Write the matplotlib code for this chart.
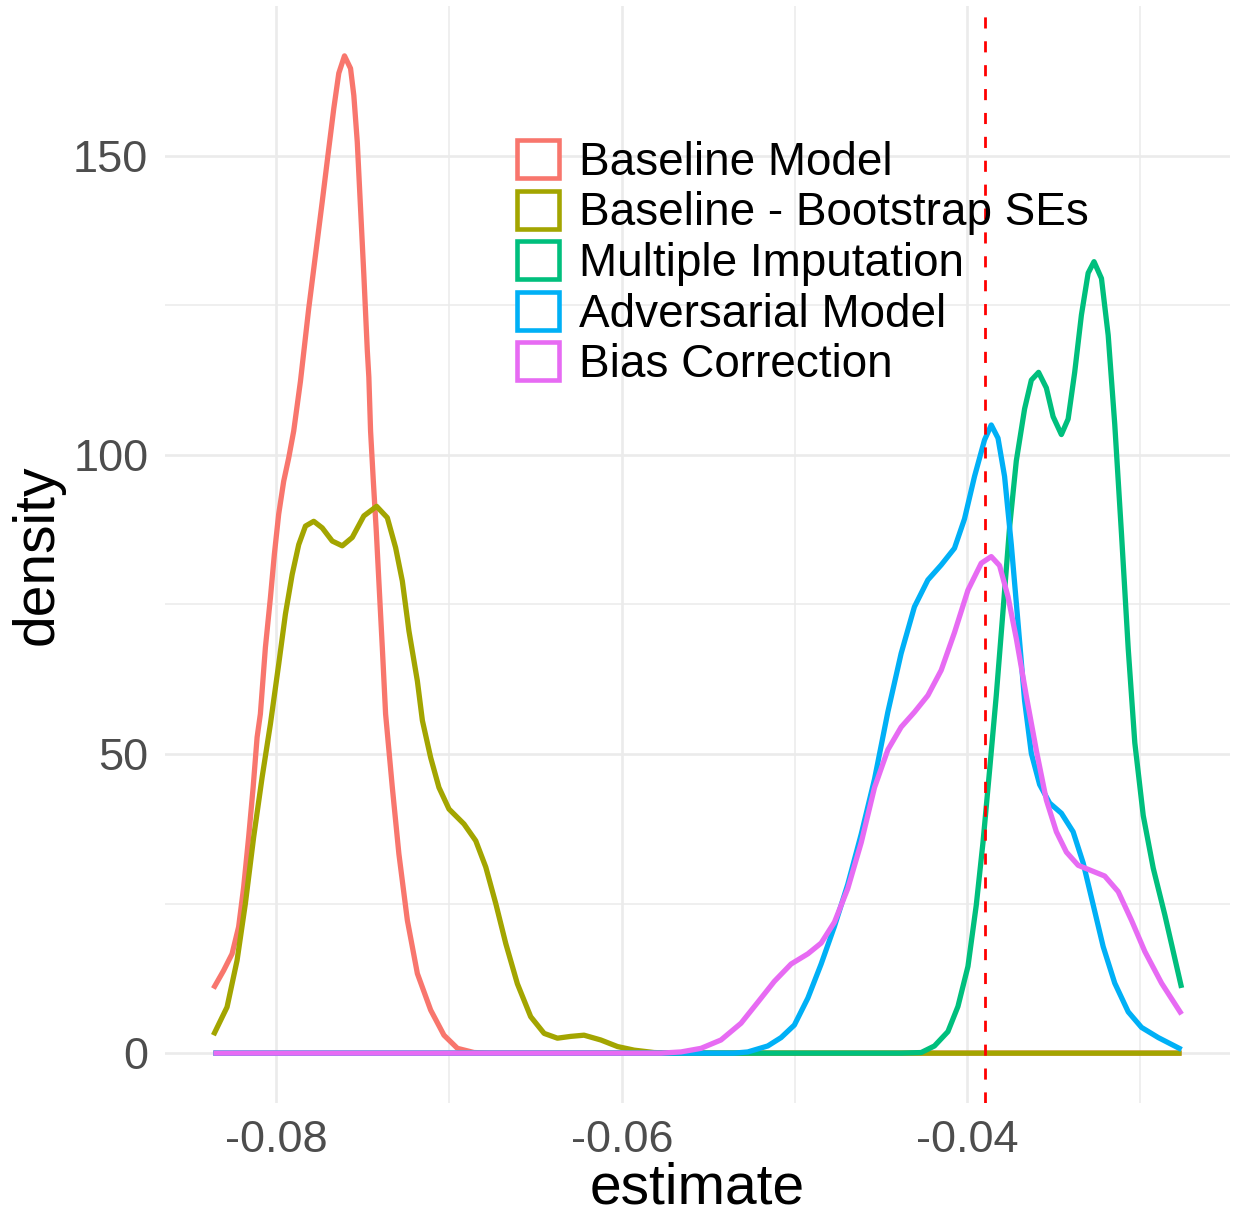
import matplotlib
matplotlib.use("Agg")
import matplotlib.pyplot as plt
from matplotlib.patches import Patch

# density curves (estimate, density)
labels = ["Baseline Model", "Baseline - Bootstrap SEs", "Multiple Imputation",
          "Adversarial Model", "Bias Correction"]
colors = ["#F8766D", "#A3A500", "#00BF7D", "#00B0F6", "#E76BF3"]

base_x = [-0.08365, -0.08306, -0.08257, -0.08219, -0.08190, -0.08161, -0.08135, -0.08112,
          -0.08093, -0.08064, -0.08035, -0.08012, -0.07987, -0.07958, -0.07929, -0.07900,
          -0.07861, -0.07813, -0.07774, -0.07735, -0.07697, -0.07668, -0.07639, -0.07606,
          -0.07571, -0.07552, -0.07532, -0.07513, -0.07494, -0.07474, -0.07465, -0.07455,
          -0.07439, -0.07422, -0.07407, -0.07387, -0.07368, -0.07329, -0.07291, -0.07242,
          -0.07184, -0.07107, -0.07030, -0.06952, -0.06856, -0.06759, -0.02759]
base_y = [10.8, 13.8, 16.6, 21.1, 27.7, 36.1, 44.4, 52.8,
          56.7, 67.8, 76.1, 83.4, 90.1, 95.6, 99.5, 104,
          112.3, 124.5, 133.4, 142.3, 151.2, 157.9, 163.8, 166.7,
          164.6, 160.1, 152.3, 141.2, 130.1, 117.5, 113, 104,
          95.6, 87.3, 78.9, 67.8, 56.7, 44.4, 33.3, 22.2,
          13.3, 7.2, 3, 0.8, 0.1, 0, 0]

boot_x = [-0.08365, -0.08286, -0.08228, -0.08180, -0.08132, -0.08083, -0.08035, -0.07987,
          -0.07948, -0.07909, -0.07871, -0.07832, -0.07784, -0.07735, -0.07677, -0.07619,
          -0.07561, -0.07494, -0.07420, -0.07358, -0.07310, -0.07271, -0.07233, -0.07184,
          -0.07155, -0.07107, -0.07059, -0.07001, -0.06914, -0.06846, -0.06788, -0.06730,
          -0.06672, -0.06605, -0.06528, -0.06450, -0.06373, -0.06296, -0.06219, -0.06122,
          -0.06025, -0.05929, -0.05814, -0.05716, -0.02759]
boot_y = [3, 7.7, 15.5, 25, 36.1, 46.1, 55, 65,
          73.4, 80, 85, 88.1, 88.9, 87.8, 85.6, 84.8,
          86.2, 89.8, 91.4, 89.5, 84.5, 78.9, 70.6, 62.2,
          55.6, 49.4, 44.4, 40.8, 38.3, 35.5, 31.1, 25,
          18.3, 11.6, 6.1, 3.3, 2.5, 2.8, 3, 2.2,
          1.1, 0.5, 0.1, 0, 0]

mi_x = [-0.08365, -0.04383, -0.04267, -0.04190, -0.04112, -0.04054, -0.03996, -0.03948,
        -0.03909, -0.03871, -0.03832, -0.03793, -0.03755, -0.03716, -0.03668, -0.03629,
        -0.03587, -0.03542, -0.03503, -0.03455, -0.03416, -0.03378, -0.03339, -0.03300,
        -0.03266, -0.03223, -0.03184, -0.03146, -0.03107, -0.03068, -0.03030, -0.02981,
        -0.02923, -0.02856, -0.02759]
mi_y = [0, 0, 0.1, 1.2, 3.6, 7.8, 14.5, 24.7,
        35.2, 47.2, 59.8, 73.9, 87.9, 99, 107.7, 112.5,
        113.8, 111.2, 106.4, 103.4, 106, 113.8, 123.4, 130.4,
        132.3, 129.5, 120, 105.1, 86.8, 67.6, 51.9, 39.7,
        30.9, 23.1, 10.9]

adv_x = [-0.08365, -0.05351, -0.05271, -0.05155, -0.05078, -0.05001, -0.04923, -0.04846,
         -0.04769, -0.04692, -0.04614, -0.04537, -0.04460, -0.04383, -0.04306, -0.04228,
         -0.04151, -0.04074, -0.04016, -0.03958, -0.03900, -0.03861, -0.03822, -0.03784,
         -0.03745, -0.03706, -0.03668, -0.03629, -0.03581, -0.03523, -0.03455, -0.03387,
         -0.03329, -0.03271, -0.03213, -0.03146, -0.03068, -0.02991, -0.02894, -0.02759]
adv_y = [0, 0, 0.2, 1.2, 2.6, 4.7, 9.2, 14.9,
         21.2, 28.2, 36.6, 45.8, 57, 66.8, 74.6, 79.1,
         81.6, 84.4, 89.3, 96.4, 102.5, 105, 102.8, 96.4,
         85, 71.9, 58.9, 50.1, 44.9, 41.8, 40.1, 37,
         31.8, 24.8, 17.8, 11.7, 6.9, 4.3, 2.6, 0.6]

bias_x = [-0.08365, -0.05774, -0.05658, -0.05542, -0.05426, -0.05310, -0.05213, -0.05117,
          -0.05020, -0.04923, -0.04846, -0.04769, -0.04692, -0.04614, -0.04537, -0.04460,
          -0.04383, -0.04306, -0.04228, -0.04151, -0.04074, -0.03996, -0.03919, -0.03861,
          -0.03813, -0.03764, -0.03716, -0.03658, -0.03600, -0.03542, -0.03484, -0.03426,
          -0.03358, -0.03281, -0.03204, -0.03126, -0.03049, -0.02972, -0.02875, -0.02759]
bias_y = [0, 0, 0.2, 0.8, 2.2, 5, 8.5, 12,
          14.9, 16.6, 18.4, 21.9, 27.5, 35.2, 44.4, 50.7,
          54.5, 57, 59.8, 64, 70.3, 77.4, 81.9, 83,
          81.5, 76.3, 69.3, 59.7, 50.6, 42.3, 37, 33.6,
          31.4, 30.5, 29.6, 27, 22.2, 17, 11.7, 6.5]

true_value = -0.03899

series = [(base_x, base_y), (boot_x, boot_y), (mi_x, mi_y), (adv_x, adv_y), (bias_x, bias_y)]

plt.rcParams['font.family'] = ['Liberation Sans', 'DejaVu Sans']

fig = plt.figure(figsize=(12.33, 12.16), dpi=100)
ax = fig.add_axes([165/1233, 1 - 1103/1216, (1230 - 165)/1233, (1103 - 6)/1216])

for (xs, ys), c in zip(series, colors):
    ax.plot(xs, ys, color=c, lw=3.8, solid_capstyle='butt', solid_joinstyle='round', zorder=3)

ax.axvline(true_value, color='#FF0000', lw=2.0, linestyle=(0, (4, 4.6)), zorder=4)

# ggplot-like 5% expansion
xmin = min(min(s[0]) for s in series)
xmax = max(max(s[0]) for s in series)
ymax = max(max(s[1]) for s in series)
dx = (xmax - xmin) * 0.05
ax.set_xlim(xmin - dx, xmax + dx)
ax.set_ylim(-ymax * 0.05, ymax * 1.05)

ax.set_xticks([-0.08, -0.06, -0.04])
ax.set_xticklabels(["-0.08", "-0.06", "-0.04"])
ax.set_xticks([-0.07, -0.05, -0.03], minor=True)
ax.set_yticks([0, 50, 100, 150])
ax.set_yticklabels(["0", "50", "100", "150"])
ax.set_yticks([25, 75, 125], minor=True)

ax.grid(which='major', color='#EBEBEB', lw=1.9, zorder=0)
ax.grid(which='minor', color='#EBEBEB', lw=1.1, zorder=0)
ax.set_axisbelow(True)
for s in ax.spines.values():
    s.set_visible(False)

ax.tick_params(which='both', length=0, labelsize=32.5, labelcolor='#4D4D4D')
ax.tick_params(axis='y', pad=12)
ax.tick_params(axis='x', pad=12.5)

ax.set_xlabel("estimate", fontsize=41, labelpad=0)
ax.set_ylabel("density", fontsize=41, labelpad=6)

handles = [Patch(facecolor='white', edgecolor=c, lw=3.3) for c in colors]
ax.legend(handles, labels, loc='upper left', bbox_to_anchor=(517/1233, 1 - 140/1216),
          bbox_transform=fig.transFigure, frameon=False, fontsize=33,
          handlelength=0.92, handleheight=0.9, handletextpad=0.43,
          labelspacing=0.125, borderpad=0, borderaxespad=0)

fig.savefig("out.png", dpi=100, facecolor='white')
